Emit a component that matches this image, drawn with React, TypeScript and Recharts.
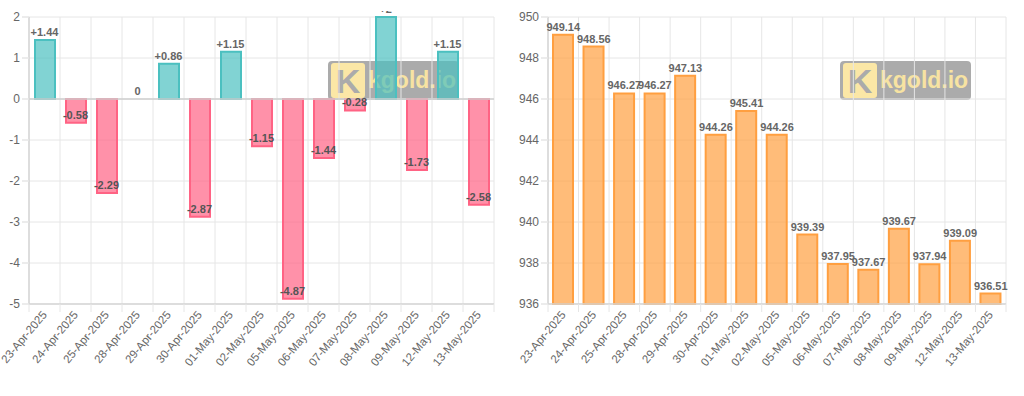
import { Bar, CartesianGrid, Cell, ComposedChart, Line, ReferenceLine, XAxis, YAxis } from "recharts";

const dates = [
  "23-Apr-2025",
  "24-Apr-2025",
  "25-Apr-2025",
  "28-Apr-2025",
  "29-Apr-2025",
  "30-Apr-2025",
  "01-May-2025",
  "02-May-2025",
  "05-May-2025",
  "06-May-2025",
  "07-May-2025",
  "08-May-2025",
  "09-May-2025",
  "12-May-2025",
  "13-May-2025",
];

const changes = [1.44, -0.58, -2.29, 0, 0.86, -2.87, 1.15, -1.15, -4.87, -1.44, -0.28, 2, -1.73, 1.15, -2.58];
const prices = [
  949.14, 948.56, 946.27, 946.27, 947.13, 944.26, 945.41, 944.26, 939.39, 937.95, 937.67, 939.67, 937.94,
  939.09, 936.51,
];

const changeTicks = [-5, -4, -3, -2, -1, 0, 1, 2];
const priceTicks = [936, 938, 940, 942, 944, 946, 948, 950];

const FONT = "'Liberation Sans', Arial, Helvetica, sans-serif";
const GRID = "#e6e6e6";
const AXIS = "#d6d6d6";
const TEXT = "#666";

const HEIGHT = 396;
const MARGIN_TOP = 17;
const X_AXIS_HEIGHT = 80;
const MARGIN_BOTTOM = 12;
const CLIP_TOP = 11;

const teal = { fill: "rgba(75, 192, 192, 0.7)", stroke: "rgb(75, 192, 192)" };
const pink = { fill: "rgba(255, 99, 132, 0.7)", stroke: "rgb(255, 99, 132)" };
const orange = { fill: "rgba(255, 159, 64, 0.7)", stroke: "rgb(255, 159, 64)" };

const formatChange = (v: number) => (v > 0 ? `+${v}` : `${v}`);
const formatPrice = (v: number) => v.toFixed(2);

type PanelProps = {
  values: number[];
  width: number;
  yWidth: number;
  marginRight: number;
  domain: [number, number];
  ticks: number[];
  colors: (v: number) => { fill: string; stroke: string };
  format: (v: number) => string;
  zeroLine?: boolean;
};

function DateTick(props: any) {
  const { x, y, payload, index, step, count } = props;
  const ax = x + 3;
  const ay = y + 11;
  return (
    <g>
      <line x1={x - step / 2} x2={x - step / 2} y1={y} y2={y + 8} stroke={GRID} />
      {index === count - 1 && <line x1={x + step / 2} x2={x + step / 2} y1={y} y2={y + 8} stroke={GRID} />}
      <text
        x={ax}
        y={ay}
        transform={`rotate(-50, ${ax}, ${ay})`}
        textAnchor="end"
        fontSize={11.5}
        fill={TEXT}
        fontFamily={FONT}
      >
        {payload.value}
      </text>
    </g>
  );
}

// labels sit 8px above the end of each bar (inside the bar for negatives)
function makeLabel(format: (v: number) => string) {
  return (props: any) => {
    const { x, y, value } = props;
    const cy = y - 8;
    return (
      <svg key={props.index} x={x - 40} y={CLIP_TOP} width={80} height={HEIGHT} overflow="hidden">
        <text
          x={40}
          y={cy - CLIP_TOP}
          textAnchor="middle"
          dominantBaseline="central"
          fontSize={11}
          fontWeight="bold"
          fontFamily={FONT}
          fill={value < 0 ? "#555" : TEXT}
        >
          {format(value)}
        </text>
      </svg>
    );
  };
}

function Panel({ values, width, yWidth, marginRight, domain, ticks, colors, format, zeroLine }: PanelProps) {
  const data = dates.map((date, i) => ({ date, value: values[i] }));
  const plotWidth = width - yWidth - marginRight;
  const step = plotWidth / dates.length;

  return (
    <ComposedChart
      width={width}
      height={HEIGHT}
      data={data}
      margin={{ top: MARGIN_TOP, right: marginRight, bottom: MARGIN_BOTTOM, left: 0 }}
    >
      <CartesianGrid
        stroke={GRID}
        verticalCoordinatesGenerator={({ offset }: any) =>
          dates.map((_, i) => offset.left + (i * offset.width) / dates.length).concat(offset.left + offset.width)
        }
      />
      <XAxis
        dataKey="date"
        interval={0}
        height={X_AXIS_HEIGHT}
        tickLine={false}
        tickSize={0}
        tickMargin={0}
        stroke={AXIS}
        strokeWidth={1.5}
        tick={(p: any) => <DateTick {...p} step={step} count={dates.length} />}
      />
      <YAxis
        width={yWidth}
        domain={domain}
        ticks={ticks}
        interval={0}
        stroke={AXIS}
        strokeWidth={1.5}
        tickLine={{ stroke: GRID }}
        tickSize={7}
        tickMargin={2}
        tick={{ fill: TEXT, fontSize: 12, fontFamily: FONT }}
      />
      {zeroLine && <ReferenceLine y={0} stroke="#cfcfcf" strokeWidth={1.5} />}
      <Bar dataKey="value" barSize={20} strokeWidth={2} isAnimationActive={false}>
        {data.map((d) => (
          <Cell key={d.date} fill={colors(d.value).fill} stroke={colors(d.value).stroke} />
        ))}
      </Bar>
      <Line
        dataKey="value"
        stroke="none"
        dot={false}
        activeDot={false}
        isAnimationActive={false}
        label={makeLabel(format)}
      />
    </ComposedChart>
  );
}

function Watermark({ left }: { left: number }) {
  return (
    <div
      style={{
        position: "absolute",
        left,
        top: 61,
        width: 131,
        height: 39,
        borderRadius: 4,
        background: "rgba(110, 110, 110, 0.58)",
        display: "flex",
        alignItems: "center",
        fontFamily: FONT,
      }}
    >
      <div
        style={{
          marginLeft: 3,
          width: 34,
          height: 35,
          borderRadius: 3,
          background: "#fbe7a6",
          color: "#ababab",
          fontSize: 34,
          fontWeight: "bold",
          lineHeight: "36px",
          textAlign: "center",
        }}
      >
        K
      </div>
      <span
        style={{
          marginLeft: 3,
          fontSize: 23,
          fontWeight: "bold",
          color: "#f7e3a2",
        }}
      >
        kgold.io
      </span>
    </div>
  );
}

export default function App() {
  return (
    <div style={{ position: "absolute", left: 0, top: 0, width: 1024, height: HEIGHT, background: "#fff" }}>
      <Watermark left={328} />
      <Watermark left={840} />
      <div style={{ position: "absolute", left: 0, top: 0 }}>
        <Panel
          values={changes}
          width={510}
          yWidth={29}
          marginRight={16}
          domain={[-5, 2]}
          ticks={changeTicks}
          colors={(v) => (v >= 0 ? teal : pink)}
          format={formatChange}
          zeroLine
        />
      </div>
      <div style={{ position: "absolute", left: 510, top: 0 }}>
        <Panel
          values={prices}
          width={514}
          yWidth={38}
          marginRight={18}
          domain={[936, 950]}
          ticks={priceTicks}
          colors={() => orange}
          format={formatPrice}
        />
      </div>
    </div>
  );
}
